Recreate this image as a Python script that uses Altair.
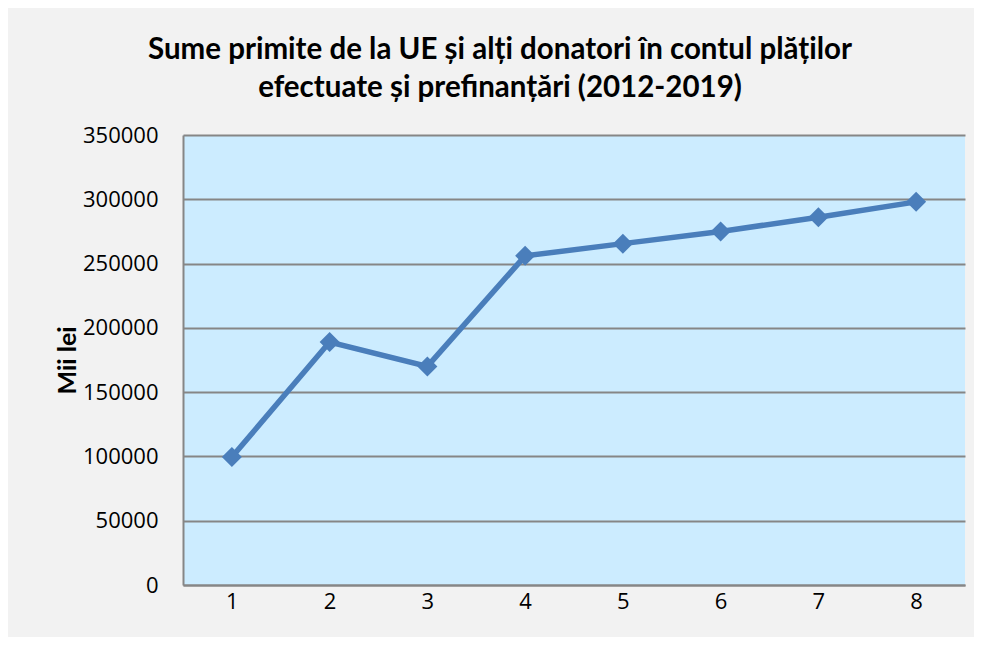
import altair as alt
import pandas as pd

categories = ["1", "2", "3", "4", "5", "6", "7", "8"]
values = [99500, 189000, 170000, 256000, 265500, 275000, 286000, 298000]
y_ticks = [0, 50000, 100000, 150000, 200000, 250000, 300000, 350000]

df = pd.DataFrame({"cat": categories, "val": values})

line_color = "#4A7EBB"

base = alt.Chart(df).encode(
    x=alt.X(
        "cat:O",
        sort=categories,
        scale=alt.Scale(type="point", padding=0.5),
        axis=alt.Axis(
            title=None, labelAngle=0, tickSize=0, labelPadding=6,
            labelFont="Open Sans", labelFontSize=22, labelColor="#000000",
            domainColor="#868686", domainWidth=2, grid=False,
        ),
    ),
    y=alt.Y(
        "val:Q",
        scale=alt.Scale(domain=[0, 350000], nice=False),
        axis=alt.Axis(
            title="Mii lei", values=y_ticks, format="d", tickSize=0, labelPadding=25,
            labelFont="Open Sans", labelFontSize=22, labelColor="#000000",
            domainColor="#868686", domainWidth=2,
            gridColor="#868686", gridWidth=1.8,
            titleFont="Lato", titleFontSize=25, titleFontWeight="bold", titleColor="#000000",
            titleX=-116, titleY=225, titleAngle=-90, titleAlign="center", titleBaseline="middle",
        ),
    ),
)

line = base.mark_line(color=line_color, strokeWidth=5.5)
pts = base.mark_point(shape="diamond", filled=True, size=400, color=line_color, opacity=1)

chart = (line + pts).properties(
    width=782,
    height=450,
    autosize=alt.AutoSizeParams(type="none"),
    padding={"left": 175, "top": 127, "right": 9, "bottom": 52},
    background="#F2F2F2",
    title=alt.TitleParams(
        text=["Sume primite de la UE și alți donatori în contul plăților",
              "efectuate și prefinanțări (2012-2019)"],
        font="Lato", fontSize=29.5, fontWeight="bold", color="#000000",
        anchor="middle", frame="group", dx=-74, offset=21, lineHeight=38,
    ),
).configure_view(fill="#CCECFF", stroke=None)

chart.save("out.html", embed_options={"renderer": "svg", "actions": False})
